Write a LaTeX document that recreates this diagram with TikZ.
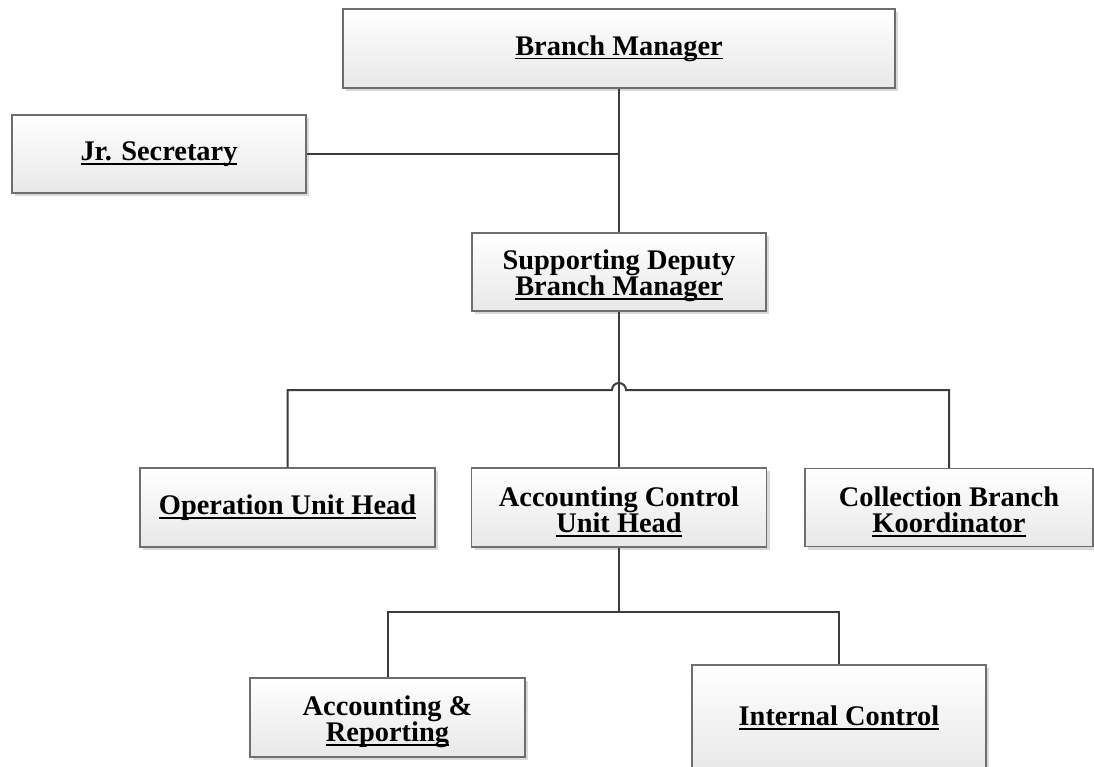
\documentclass[tikz,border=0pt]{standalone}
\usepackage{fontspec}
\setmainfont{Liberation Serif}
\usetikzlibrary{shadows}
\definecolor{boxline}{HTML}{6E6E6E}
\definecolor{conn}{HTML}{3C3C3C}
\newcommand{\ulx}[1]{\setbox0\hbox{#1}\rlap{\rule[-4.2pt]{\wd0}{1.6pt}}\box0}
\newcommand{\topstrut}{\rule{0pt}{28pt}}
\tikzset{
  orgbox/.style={rectangle, draw=boxline, line width=1.4pt, inner sep=0pt,
    top color=white, bottom color=black!9,
    drop shadow={shadow xshift=3pt, shadow yshift=-3pt, fill=black!25, opacity=0.6},
    align=center, font=\fontsize{28.4}{26}\selectfont\bfseries},
  link/.style={draw=conn, line width=2pt}
}
\begin{document}
\begin{tikzpicture}[x=1pt,y=-1pt]
\useasboundingbox (0,0) rectangle (1094,767);
\node[orgbox, minimum width=552pt, minimum height=79pt] (bm) at (619,48.5) {\ulx{Branch Manager}};
\node[orgbox, minimum width=294pt, minimum height=78pt] (js) at (159,154) {\ulx{Jr. Secretary}};
\node[orgbox, minimum width=294pt, minimum height=78pt] (sd) at (619,272) {\topstrut Supporting Deputy\\\ulx{Branch Manager}};
\node[orgbox, minimum width=295pt, minimum height=79pt] (ou) at (287.5,507.5) {\ulx{Operation Unit Head}};
\node[orgbox, minimum width=295pt, minimum height=79pt] (ac) at (619,507.5) {\topstrut Accounting Control\\\ulx{Unit Head}};
\node[orgbox, minimum width=288pt, minimum height=78pt] (cb) at (949,507.5) {\topstrut Collection Branch\\\ulx{Koordinator}};
\node[orgbox, minimum width=275pt, minimum height=79pt] (ar) at (387.5,717.5) {\topstrut Accounting \&\\\ulx{Reporting}};
\node[orgbox, minimum width=294pt, minimum height=106pt] (ic) at (839,718) {\ulx{Internal Control}};

\coordinate (bus) at (619,390);
\coordinate (bus2) at (619,612);

\draw[link] (bm.south) -- (sd.north);
\draw[link] (js.east) -- (js.east -| bm.south);
\draw[link] (sd.south) -- (ac.north);
\draw[link] (ou.north) -- (ou.north |- bus) -- ([xshift=-7pt]bus) arc (180:0:7pt) -- (cb.north |- bus) -- (cb.north);
\draw[link] (ac.south) -- (bus2);
\draw[link] (ar.north) -- (ar.north |- bus2) -- (ic.north |- bus2) -- (ic.north);
\end{tikzpicture}
\end{document}
